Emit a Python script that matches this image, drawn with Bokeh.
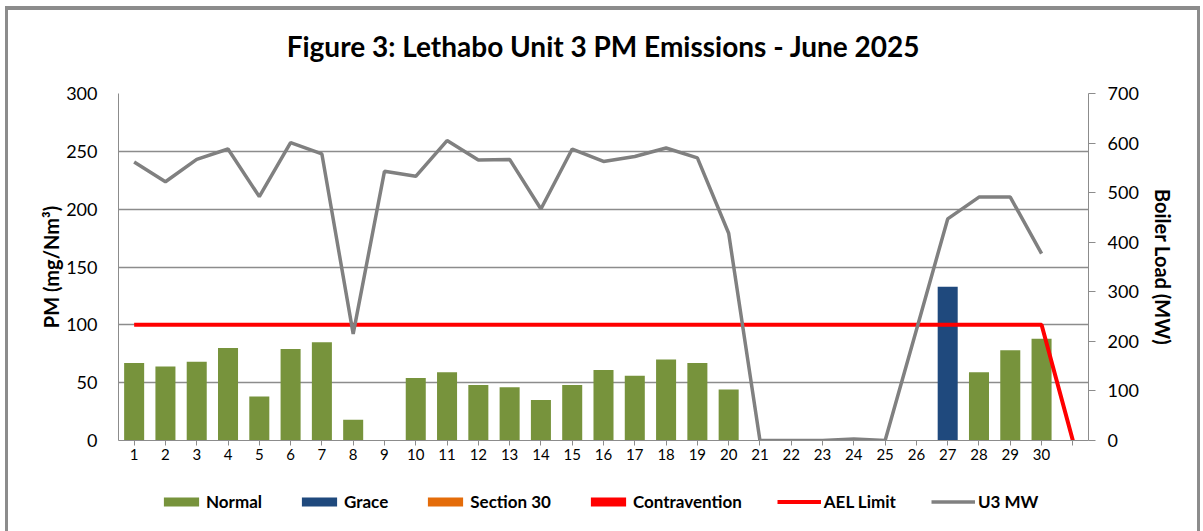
from bokeh.plotting import figure
from bokeh.layouts import column
from bokeh.models import (ColumnDataSource, Range1d, LinearAxis, FixedTicker,
                          Legend, LegendItem, Label)
from bokeh.embed import file_html
from bokeh.resources import INLINE

# ---- data ----
title_text = "Figure 3: Lethabo Unit 3 PM Emissions - June 2025"
days = list(range(1, 32))
day_labels = [str(d) for d in range(1, 31)] + [""]
normal = [67, 64, 68, 80, 38, 79, 85, 18, 0, 54, 59, 48, 46, 35, 48, 61, 56, 70, 67, 44,
          0, 0, 0, 0, 0, 0, 0, 59, 78, 88, 0]
grace = [0] * 26 + [133] + [0] * 4
section30 = [0] * 31
contravention = [0] * 31
ael_limit = [100] * 30 + [0]
u3_mw = [562, 522, 567, 588, 492, 601, 578, 215, 543, 533, 605, 566, 567, 467, 588, 563,
         573, 590, 570, 418, 0, 0, 0, 3, 0, 223, 447, 491, 491, 377]
series_names = ["Normal", "Grace", "Section 30", "Contravention", "AEL Limit", "U3 MW"]
series_colors = ["#77933C", "#1F497D", "#E46C0A", "#FF0000", "#FF0000", "#808080"]

src = ColumnDataSource(dict(day=days, normal=normal, grace=grace, s30=section30,
                            contra=contravention, ael=ael_limit))
mw_src = ColumnDataSource(dict(day=days[:30], mw=u3_mw))

FONT = "Lato"
GRID = "#8c8c8c"
W = 1189


def strip(height, xr=(0, 1), yr=(0, 1)):
    f = figure(width=W, height=height, output_backend="svg", toolbar_location=None,
               x_range=Range1d(*xr), y_range=Range1d(*yr),
               x_axis_location=None, y_axis_location=None,
               min_border_left=0, min_border_right=0, min_border_top=0, min_border_bottom=0)
    f.outline_line_color = None
    f.xgrid.grid_line_color = None
    f.ygrid.grid_line_color = None
    f.background_fill_color = "white"
    f.border_fill_color = "white"
    return f


# ---- title strip ----
TH = 70
tf = strip(TH, (0, 1), (0, TH))
tf.add_layout(Label(x=0.5, y=TH - 35.5, text=title_text, text_align="center",
                    text_baseline="alphabetic", text_font=FONT, text_font_size="28px",
                    text_font_style="bold", text_color="black"))

# ---- main chart ----
p = figure(width=W, height=390, output_backend="svg", toolbar_location=None,
           x_range=Range1d(0.5, 31.5), y_range=Range1d(0, 300),
           min_border_left=110, min_border_right=109, min_border_top=13,
           min_border_bottom=30)
p.outline_line_color = None
p.background_fill_color = "white"
p.border_fill_color = "white"
p.extra_y_ranges = {"mw": Range1d(0, 700)}

bw = 0.64
p.vbar(x="day", top="normal", width=bw, source=src, fill_color=series_colors[0], line_color=None)
p.vbar(x="day", top="grace", width=bw, source=src, fill_color=series_colors[1], line_color=None)
p.vbar(x="day", top="s30", width=bw, source=src, fill_color=series_colors[2], line_color=None)
p.vbar(x="day", top="contra", width=bw, source=src, fill_color=series_colors[3], line_color=None)
p.line(x="day", y="ael", source=src, line_color=series_colors[4], line_width=4)
p.line(x="day", y="mw", source=mw_src, line_color=series_colors[5], line_width=3.5,
       y_range_name="mw")

xa = p.xaxis[0]
xa.ticker = FixedTicker(ticks=days)
xa.major_label_overrides = {d: lab for d, lab in zip(days, day_labels)}
xa.axis_line_color = GRID
xa.major_tick_line_color = GRID
xa.major_tick_out = 5
xa.major_tick_in = 0
xa.minor_tick_line_color = None
xa.major_label_text_font = FONT
xa.major_label_text_font_size = "15px"
xa.major_label_text_color = "black"
xa.major_label_standoff = 3

ya = p.yaxis[0]
ya.ticker = FixedTicker(ticks=[0, 50, 100, 150, 200, 250, 300])
ya.axis_label = "PM (mg/Nm³)"
ya.axis_label_text_font = FONT
ya.axis_label_text_font_size = "20px"
ya.axis_label_text_font_style = "bold"
ya.axis_label_text_color = "black"
ya.axis_label_standoff = 0
ya.axis_line_color = GRID
ya.major_tick_line_color = None
ya.minor_tick_line_color = None
ya.major_label_text_font = FONT
ya.major_label_text_font_size = "18px"
ya.major_label_text_color = "black"
ya.major_label_standoff = 15

ra = LinearAxis(y_range_name="mw", ticker=FixedTicker(ticks=list(range(0, 701, 100))))
ra.axis_label = "Boiler Load (MW)"
ra.axis_label_text_font = FONT
ra.axis_label_text_font_size = "20px"
ra.axis_label_text_font_style = "bold"
ra.axis_label_text_color = "black"
ra.axis_label_standoff = 9
ra.axis_line_color = GRID
ra.major_tick_line_color = GRID
ra.major_tick_out = 7
ra.major_tick_in = 0
ra.minor_tick_line_color = None
ra.major_label_text_font = FONT
ra.major_label_text_font_size = "18px"
ra.major_label_text_color = "black"
ra.major_label_standoff = 12
p.add_layout(ra, "right")

p.xgrid.grid_line_color = None
p.ygrid.grid_line_color = GRID
p.ygrid.grid_line_width = 1.5

# ---- legend strip: same series placed far outside the strip's ranges ----
lf = strip(61, (5000, 5001), (50000, 50001))
items = []
for i, (name, col) in enumerate(zip(series_names, series_colors)):
    if i == 0:
        r = lf.vbar(x="day", top="normal", width=bw, source=src, fill_color=col, line_color=None)
    elif i == 1:
        r = lf.vbar(x="day", top="grace", width=bw, source=src, fill_color=col, line_color=None)
    elif i == 2:
        r = lf.vbar(x="day", top="s30", width=bw, source=src, fill_color=col, line_color=None)
    elif i == 3:
        r = lf.vbar(x="day", top="contra", width=bw, source=src, fill_color=col, line_color=None)
    elif i == 4:
        r = lf.line(x="day", y="ael", source=src, line_color=col, line_width=4,
                    line_join="round")
    else:
        r = lf.line(x="day", y="mw", source=mw_src, line_color=col, line_width=3.5,
                    line_join="round")
    items.append(LegendItem(label=name, renderers=[r]))

legend = Legend(items=items, orientation="horizontal", location=(41, 19))
legend.label_text_font = FONT
legend.label_text_font_size = "17px"
legend.label_text_font_style = "bold"
legend.label_text_color = "black"
legend.glyph_width = 44
legend.glyph_height = 11
legend.label_standoff = 3
legend.spacing = 35
legend.border_line_color = None
legend.background_fill_alpha = 0
legend.margin = 0
legend.padding = 0
lf.add_layout(legend, "center")

layout = column(tf, p, lf, spacing=0)
layout.styles = {"margin-left": "5px", "margin-top": "6px",
                 "border-top": "4px solid #8c8c8c", "border-left": "3px solid #8c8c8c",
                 "border-right": "3px solid #8c8c8c"}

open("out.html", "w").write(file_html(layout, INLINE))
